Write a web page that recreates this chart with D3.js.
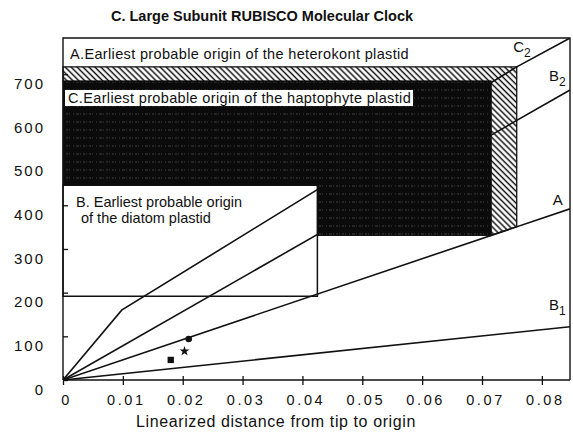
<!DOCTYPE html>
<html>
<head>
<meta charset="utf-8">
<script src="https://cdn.jsdelivr.net/npm/d3@7"></script>
<style>
  body { margin: 0; background: #fff; }
  text { font-family: 'Liberation Sans', Arial, Helvetica, sans-serif; fill: #111; }
</style>
</head>
<body>
<div id="chart"></div>
<script>
// tick values
const xTicks = [0, 0.01, 0.02, 0.03, 0.04, 0.05, 0.06, 0.07, 0.08];
const yTicks = [0, 100, 200, 300, 400, 500, 600, 700];

// rate lines from the origin: [distance, time]
const lineA = [[0, 0], [0.0847, 392]];
const lineB1 = [[0, 0], [0.0847, 122]];
const lineB2 = [[0, 0], [0.0847, 664]];
const lineC2 = [[0, 0], [0.0098, 160], [0.0758, 717], [0.0847, 783]];

// calibration points
const pointX = [0.021, 0.0203, 0.018];
const pointY = [94, 66, 46];
const pointShape = ['circle', 'star', 'square'];

// origin windows (polygons in data units)
const heterokontBand = [[0, 717], [0.0758, 717], [0.0758, 351], [0.0715, 331], [0.0715, 684], [0, 684]];
const haptophyteBox = [[0, 684], [0.0715, 684], [0.0715, 331], [0.0425, 331], [0.0425, 446], [0, 446]];
const diatomBox = [[0, 446], [0.0425, 446], [0.0425, 192], [0, 192]];

const title = 'C. Large Subunit RUBISCO Molecular Clock';
const xTitle = 'Linearized distance from tip to origin';
const labelA = 'A.Earliest probable origin of the heterokont plastid';
const labelC = 'C.Earliest probable origin of the haptophyte plastid';
const labelB = ['B. Earliest probable origin', 'of the diatom plastid'];
const lineNames = [['A', ''], ['B', '1'], ['B', '2'], ['C', '2']];

// set the dimensions and margins of the graph
const margin = {top: 38, right: 3, bottom: 54, left: 63};
const width = 573 - margin.left - margin.right;
const height = 434 - margin.top - margin.bottom;

const root = d3.select('#chart')
    .append('svg')
    .attr('width', 573)
    .attr('height', 434);

root.append('rect').attr('width', 573).attr('height', 434).attr('fill', '#fff');

const defs = root.append('defs');
// diagonal hatching
defs.append('pattern')
    .attr('id', 'hatch')
    .attr('width', 4.2)
    .attr('height', 4.2)
    .attr('patternUnits', 'userSpaceOnUse')
    .attr('patternTransform', 'rotate(-45)')
    .append('line')
    .attr('x1', 2).attr('x2', 2)
    .attr('y1', 0).attr('y2', 4.2)
    .attr('stroke', '#111')
    .attr('stroke-width', 1.5);
// faint scan texture in the black box
const speck = defs.append('pattern')
    .attr('id', 'speck')
    .attr('width', 23)
    .attr('height', 8)
    .attr('patternUnits', 'userSpaceOnUse');
speck.append('rect').attr('width', 23).attr('height', 8).attr('fill', '#0b0b0b');
speck.append('line')
    .attr('x1', 0).attr('x2', 23).attr('y1', 4).attr('y2', 4)
    .attr('stroke', '#fff')
    .attr('stroke-opacity', 0.22)
    .attr('stroke-width', 1)
    .attr('stroke-dasharray', '1 2 2 1 1 3 1 2 3 1');
defs.append('clipPath')
    .attr('id', 'plot-clip')
    .append('rect')
    .attr('width', width)
    .attr('height', height);

const svg = root.append('g')
    .attr('transform', 'translate(' + margin.left + ',' + margin.top + ')');

const x = d3.scaleLinear().domain([0, 0.0847]).range([0, width]);
const y = d3.scaleLinear().domain([0, 783]).range([height, 0]);

const poly = d3.line()
    .x(function(d) {
      return x(d[0]);
    })
    .y(function(d) {
      return y(d[1]);
    });

// hatched band (heterokont window)
svg.append('path')
    .attr('d', poly(heterokontBand) + 'Z')
    .attr('fill', 'url(#hatch)')
    .attr('stroke', '#111')
    .attr('stroke-width', 1.3);

// diatom box background
svg.append('path')
    .attr('d', poly(diatomBox) + 'Z')
    .attr('fill', '#fff');

// rate lines
const lines = svg.append('g').attr('clip-path', 'url(#plot-clip)');
[lineA, lineB1, lineB2, lineC2].forEach(function(data) {
  lines.append('path')
      .datum(data)
      .attr('fill', 'none')
      .attr('stroke', '#111')
      .attr('stroke-width', 1.6)
      .attr('d', poly);
});

// black haptophyte box, lines pass behind it
svg.append('path')
    .attr('d', poly(haptophyteBox) + 'Z')
    .attr('fill', 'url(#speck)')
    .attr('stroke', '#0b0b0b')
    .attr('stroke-width', 1);

svg.append('path')
    .attr('d', poly(diatomBox) + 'Z')
    .attr('fill', 'none')
    .attr('stroke', '#111')
    .attr('stroke-width', 1.5);

// frame
svg.append('path')
    .attr('d', 'M0,' + height + 'V0H' + width + 'V' + height)
    .attr('fill', 'none')
    .attr('stroke', '#111')
    .attr('stroke-width', 1.4);

// labels inside the plot
svg.append('text')
    .attr('x', 7)
    .attr('y', 21)
    .style('font-size', '14.5px')
    .style('letter-spacing', '0.35px')
    .text(labelA);

const cLabel = svg.append('g');
const cText = cLabel.append('text')
    .attr('x', 5)
    .attr('y', 65)
    .style('font-size', '14.5px')
    .style('letter-spacing', '0.35px')
    .text(labelC);
const cBox = cText.node().getBBox();
cLabel.insert('rect', 'text')
    .attr('x', cBox.x - 3)
    .attr('y', cBox.y)
    .attr('width', cBox.width + 5)
    .attr('height', cBox.height)
    .attr('fill', '#fff');

svg.selectAll('.b-label')
    .data(labelB)
    .join('text')
    .attr('class', 'b-label')
    .attr('x', function(d, i) {
      return i ? 18 : 13;
    })
    .attr('y', function(d, i) {
      return 169 + i * 15.5;
    })
    .style('font-size', '14.5px')
    .text(function(d) {
      return d;
    });

// line names near the right edge
const namePos = [[0.0818, 400], [0.0812, 160], [0.0812, 684], [0.0752, 752]];
lineNames.forEach(function(n, i) {
  const t = svg.append('text')
      .attr('x', x(namePos[i][0]))
      .attr('y', y(namePos[i][1]))
      .style('font-size', '15px')
      .text(n[0]);
  if (n[1]) {
    t.append('tspan')
        .attr('dy', 5)
        .style('font-size', '12px')
        .text(n[1]);
  }
});

// calibration points
const symbols = {circle: d3.symbolCircle, star: d3.symbolStar, square: d3.symbolSquare};
const symbolSize = {circle: 34, star: 30, square: 40};
pointX.forEach(function(px, i) {
  svg.append('path')
      .attr('transform', 'translate(' + x(px) + ',' + y(pointY[i]) + ')')
      .attr('d', d3.symbol().type(symbols[pointShape[i]]).size(symbolSize[pointShape[i]])())
      .attr('fill', '#111');
});

// Add X axis
const xAxis = svg.append('g')
    .attr('transform', 'translate(0,' + height + ')')
    .call(d3.axisBottom(x)
        .tickValues(xTicks)
        .tickSize(5)
        .tickPadding(10)
        .tickFormat(function(d) {
          return d === 0 ? '0' : d3.format('.2f')(d);
        }));
xAxis.select('.domain').remove();
xAxis.append('line')
    .attr('x1', 0).attr('x2', width)
    .attr('stroke', '#111')
    .attr('stroke-width', 1.5);
xAxis.selectAll('.tick line')
    .attr('y1', -4)
    .attr('stroke', '#111')
    .attr('stroke-width', 1.3);
xAxis.selectAll('.tick text')
    .attr('dx', 3)
    .style('font-size', '14.5px')
    .style('letter-spacing', '2.6px')
    .attr('fill', '#111');

// Add Y axis
const yAxis = svg.append('g')
    .call(d3.axisLeft(y)
        .tickValues(yTicks)
        .tickSize(6)
        .tickPadding(12));
yAxis.select('.domain').remove();
yAxis.selectAll('.tick line')
    .attr('x2', 5)
    .attr('stroke', '#111')
    .attr('stroke-width', 1.3);
yAxis.selectAll('.tick text')
    .attr('dy', '0.95em')
    .style('font-size', '15px')
    .style('letter-spacing', '2px')
    .attr('fill', '#111');

// titles
root.append('text')
    .attr('x', 262)
    .attr('y', 21)
    .attr('text-anchor', 'middle')
    .style('font-size', '14.5px')
    .style('font-weight', 'bold')
    .text(title);

root.append('text')
    .attr('x', 276)
    .attr('y', 427)
    .attr('text-anchor', 'middle')
    .style('font-size', '16px')
    .style('letter-spacing', '0.6px')
    .text(xTitle);
</script>
</body>
</html>
